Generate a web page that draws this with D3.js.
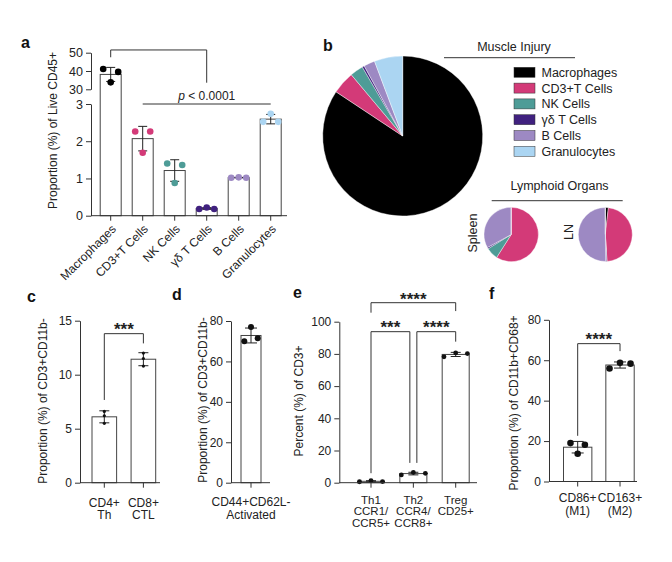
<!DOCTYPE html>
<html>
<head>
<meta charset="utf-8">
<script src="https://cdn.jsdelivr.net/npm/d3@7"></script>
<style>
body { margin: 0; background: #fff; }
svg { display: block; }
text { font-family: "Liberation Sans", Arial, sans-serif; fill: #222; }
</style>
</head>
<body>
<svg id="fig" width="672" height="562"></svg>
<script>
// ---- data ----
const cellTypes = ["Macrophages", "CD3+T Cells", "NK Cells", "γδ T Cells", "B Cells", "Granulocytes"];
const cellColors = ["#000000", "#d33a78", "#4e9c97", "#40217f", "#9d89c3", "#abd5f2"];
// replicate values, left / centre / right dot
const aPoints = [
    [41.1, 33.8, 39.5],
    [2.26, 1.69, 2.26],
    [1.40, 0.88, 1.36],
    [0.18, 0.22, 0.18],
    [1.02, 1.03, 1.02],
    [2.52, 2.74, 2.52]
];
const aTicksUpper = [30, 40, 50];
const aTicksLower = [0, 1, 2, 3];

// lymphoid organ composition (% of slice), same order as cellTypes
const spleenShares = [0, 59, 7.2, 0.8, 33, 0];
const lnShares = [1.8, 47.2, 0.2, 0.6, 50.2, 0];

const cLabels = ["CD4+\nTh", "CD8+\nCTL"];
const cPoints = [[6.6, 6.2, 5.5], [12.0, 11.5, 10.8]];
const cTicks = [0, 5, 10, 15];

const dLabels = ["CD44+CD62L-\nActivated"];
const dPoints = [[70, 77, 71.5]];
const dTicks = [0, 20, 40, 60, 80];

const eLabels = ["Th1\nCCR1/\nCCR5+", "Th2\nCCR4/\nCCR8+", "Treg\nCD25+"];
const ePoints = [[0.6, 1.3, 0.7], [4.8, 6.4, 5.8], [78.2, 80.6, 80.2]];
const eTicks = [0, 20, 40, 60, 80, 100];

const fLabels = ["CD86+\n(M1)", "CD163+\n(M2)"];
const fPoints = [[19.0, 13.7, 18.2], [55.9, 58.7, 58.3]];
const fTicks = [0, 20, 40, 60, 80];

const svg = d3.select("#fig");
const axisColor = "#333";
const barStroke = "#444";
const intFmt = d3.format("d");

const styleAxis = (g, size) => {
    g.selectAll(".domain, .tick line").attr("stroke", axisColor).attr("stroke-width", 1);
    g.selectAll(".tick text").attr("font-size", size || "12px").attr("fill", "#222")
        .attr("font-family", "Liberation Sans, Arial, sans-serif");
};

const panelLetter = (txt, x, y) => {
    svg.append("text").attr("x", x).attr("y", y).text(txt)
        .attr("font-size", "16px").attr("font-weight", "bold").style("fill", "#111");
};

const yTitle = (txt, x, y) => {
    svg.append("text")
        .attr("transform", "translate(" + x + "," + y + ") rotate(-90)")
        .attr("text-anchor", "middle")
        .attr("font-size", "12px")
        .text(txt);
};

const stars = (txt, x, y) => {
    svg.append("text").attr("x", x).attr("y", y).attr("text-anchor", "middle")
        .attr("font-size", "17px").attr("font-weight", "bold").text(txt);
};

const bracket = (x1, y1, x2, y2, top) => {
    svg.append("path")
        .attr("d", "M" + x1 + "," + y1 + "V" + top + "H" + x2 + "V" + y2)
        .attr("fill", "none").attr("stroke", axisColor).attr("stroke-width", 1);
};

// ================= panel a =================
const ax = d3.scaleBand().domain(cellTypes).range([100.2, 281.2]).paddingInner(0.344);
const ayUp = d3.scaleLinear().domain([30, 50]).range([89.3, 52.7]);
const ayLow = d3.scaleLinear().domain([0, 3]).range([215.7, 104]);
const ay = v => v > 3 ? ayUp(v) : ayLow(v);
const aStats = aPoints.map(p => ({ m: d3.mean(p), s: d3.deviation(p) }));
const acx = d => ax(d) + ax.bandwidth() / 2;

const ga = svg.append("g");
ga.selectAll("rect").data(cellTypes).join("rect")
    .attr("x", d => ax(d))
    .attr("width", ax.bandwidth())
    .attr("y", (d, i) => ay(aStats[i].m))
    .attr("height", (d, i) => ayLow(0) - ay(aStats[i].m))
    .attr("fill", "#fff").attr("stroke", barStroke);

cellTypes.forEach((c, i) => {
    const cx = acx(c), st = aStats[i];
    const top = ay(st.m + st.s), bot = ay(st.m - st.s);
    ga.append("path")
        .attr("d", "M" + cx + "," + top + "V" + bot + "M" + (cx - 4.5) + "," + top + "H" + (cx + 4.5)
            + "M" + (cx - 4.5) + "," + bot + "H" + (cx + 4.5))
        .attr("stroke", "#222").attr("fill", "none");
    ga.selectAll(null).data(aPoints[i]).join("circle")
        .attr("cx", (v, j) => cx + (j - 1) * 7.5)
        .attr("cy", v => ay(v))
        .attr("r", 3.3)
        .attr("fill", cellColors[i]);
});

const axU = svg.append("g").attr("transform", "translate(91,0)")
    .call(d3.axisLeft(ayUp).tickValues(aTicksUpper).tickFormat(intFmt)
        .tickSize(5).tickSizeOuter(0).tickPadding(3));
styleAxis(axU, "12.5px");
const axL = svg.append("g").attr("transform", "translate(91,0)")
    .call(d3.axisLeft(ayLow).tickValues(aTicksLower).tickFormat(intFmt)
        .tickSize(5).tickSizeOuter(0).tickPadding(3));
styleAxis(axL, "12.5px");

const axB = svg.append("g").attr("transform", "translate(0," + ayLow(0) + ")")
    .call(d3.axisBottom(ax).tickSize(5).tickSizeOuter(0).tickFormat(""));
axB.select(".domain").remove();
styleAxis(axB);
svg.append("line").attr("x1", 91).attr("x2", 287).attr("y1", ayLow(0)).attr("y2", ayLow(0))
    .attr("stroke", axisColor);

svg.selectAll(".alab").data(cellTypes).join("text")
    .attr("class", "alab")
    .attr("transform", d => "translate(" + (acx(d) + 3) + "," + (ayLow(0) + 11) + ") rotate(-45)")
    .attr("text-anchor", "end")
    .attr("dy", "0.35em")
    .attr("font-size", "12px")
    .text(d => d);

bracket(acx(cellTypes[0]), ayUp(47.5), acx(cellTypes[3]), ayUp(33.6), ayUp(51.5));
svg.append("line").attr("x1", acx(cellTypes[1])).attr("x2", acx(cellTypes[5]))
    .attr("y1", ayLow(3)).attr("y2", ayLow(3)).attr("stroke", axisColor);
const pt = svg.append("text").attr("x", acx(cellTypes[3])).attr("y", ayLow(3) - 4.5)
    .attr("text-anchor", "middle").attr("font-size", "12px");
pt.append("tspan").attr("font-style", "italic").text("p");
pt.append("tspan").text(" < 0.0001");

yTitle("Proportion (%) of Live CD45+", 56.5, 130.5);
panelLetter("a", 21, 47.5);

// ================= panel b =================
const pie = d3.pie().sort(null).value(d => d);
const muscleShares = aStats.map(s => s.m);

const drawPie = (values, cx, cy, r) => {
    const arc = d3.arc().innerRadius(0).outerRadius(r);
    svg.append("g").attr("transform", "translate(" + cx + "," + cy + ")")
        .selectAll("path").data(pie(values)).join("path")
        .attr("d", arc)
        .attr("fill", (d, i) => cellColors[i])
        .attr("stroke", "#fff").attr("stroke-width", 0.4);
};
drawPie(muscleShares, 402.7, 136, 80);
drawPie(spleenShares, 511.2, 234.5, 27.2);
drawPie(lnShares, 605.3, 234.5, 27);

svg.append("text").attr("x", 514).attr("y", 51).attr("text-anchor", "middle")
    .attr("font-size", "12.5px").text("Muscle Injury");
svg.append("line").attr("x1", 444).attr("x2", 575).attr("y1", 57.7).attr("y2", 57.7)
    .attr("stroke", "#333");

const leg = svg.append("g").attr("transform", "translate(514,72.3)");
leg.selectAll("rect").data(cellTypes).join("rect")
    .attr("x", 0).attr("y", (d, i) => i * 15.8 - 5)
    .attr("width", 21).attr("height", 10)
    .attr("fill", (d, i) => cellColors[i])
    .attr("stroke", "#333").attr("stroke-width", 0.5);
leg.selectAll("text").data(cellTypes).join("text")
    .attr("x", 27.5).attr("y", (d, i) => i * 15.8)
    .attr("dy", "0.36em")
    .attr("font-size", "12.5px")
    .text(d => d);

svg.append("text").attr("x", 559.5).attr("y", 190).attr("text-anchor", "middle")
    .attr("font-size", "12.5px").text("Lymphoid Organs");
svg.append("line").attr("x1", 491.7).attr("x2", 622.7).attr("y1", 200.7).attr("y2", 200.7)
    .attr("stroke", "#333");
svg.append("text").attr("transform", "translate(476.5,233) rotate(-90)")
    .attr("text-anchor", "middle").attr("font-size", "12.5px").text("Spleen");
svg.append("text").attr("transform", "translate(572.5,232) rotate(-90)")
    .attr("text-anchor", "middle").attr("font-size", "12.5px").text("LN");

panelLetter("b", 323, 50.7);

// ================= bar panels c-f =================
const barPanel = o => {
    const x = d3.scaleBand().domain(o.labels).range(o.band).paddingInner(o.pad);
    const y = d3.scaleLinear().domain([0, d3.max(o.ticks)]).range(o.yRange);
    const cx = d => x(d) + x.bandwidth() / 2;
    const stats = o.points.map(p => ({ m: d3.mean(p), s: d3.deviation(p) }));
    const g = svg.append("g");

    g.selectAll("rect").data(o.labels).join("rect")
        .attr("x", d => x(d)).attr("width", x.bandwidth())
        .attr("y", (d, i) => y(stats[i].m))
        .attr("height", (d, i) => y(0) - y(stats[i].m))
        .attr("fill", "#fff").attr("stroke", barStroke);

    o.labels.forEach((lab, i) => {
        const c = cx(lab), st = stats[i];
        const top = y(st.m + st.s), bot = y(st.m - st.s);
        g.append("path")
            .attr("d", "M" + c + "," + top + "V" + bot + "M" + (c - o.cap) + "," + top + "H" + (c + o.cap)
                + "M" + (c - o.cap) + "," + bot + "H" + (c + o.cap))
            .attr("stroke", "#222").attr("fill", "none");
        g.selectAll(null).data(o.points[i]).join("circle")
            .attr("cx", (v, j) => c + (j - 1) * o.spread[i])
            .attr("cy", v => y(v))
            .attr("r", o.r)
            .attr("fill", "#111");
    });

    const yAx = svg.append("g").attr("transform", "translate(" + o.axisX + ",0)")
        .call(d3.axisLeft(y).tickValues(o.ticks).tickFormat(intFmt)
            .tickSize(5).tickSizeOuter(0).tickPadding(3));
    styleAxis(yAx);
    const xAx = svg.append("g").attr("transform", "translate(0," + y(0) + ")")
        .call(d3.axisBottom(x).tickSize(5).tickSizeOuter(0).tickFormat(""));
    xAx.select(".domain").remove();
    styleAxis(xAx);
    svg.append("line").attr("x1", o.axisX).attr("x2", o.axisEnd)
        .attr("y1", y(0)).attr("y2", y(0)).attr("stroke", axisColor);

    o.labels.forEach(lab => {
        lab.split("\n").forEach((line, k) => {
            svg.append("text").attr("text-anchor", "middle")
                .attr("font-size", o.labelSize || "12px")
                .attr("x", cx(lab)).attr("y", o.labelY + k * o.lineH).text(line);
        });
    });
    return { x: cx, y: y };
};

// panel c
const pc = barPanel({
    labels: cLabels, points: cPoints, ticks: cTicks,
    band: [92, 155.7], pad: 0.37, yRange: [482.7, 320.7],
    axisX: 80, axisEnd: 160, cap: 5, r: 1.6, spread: [0, 0],
    labelY: 506.5, lineH: 12.5
});
bracket(pc.x(cLabels[0]), pc.y(7.66), pc.x(cLabels[1]), pc.y(12.9), pc.y(13.8));
stars("***", (pc.x(cLabels[0]) + pc.x(cLabels[1])) / 2, pc.y(13.8) + 1.5);
yTitle("Proportion (%) of CD3+CD11b-", 46.5, 401);
panelLetter("c", 27, 302);

// panel d
const pd = barPanel({
    labels: dLabels, points: dPoints, ticks: dTicks,
    band: [241, 261], pad: 0, yRange: [482.7, 321],
    axisX: 231, axisEnd: 270, cap: 6, r: 3, spread: [6.7],
    labelY: 506, lineH: 12.5
});
yTitle("Proportion (%) of CD3+CD11b-", 207, 400);
panelLetter("d", 172, 300);

// panel e
const pe = barPanel({
    labels: eLabels, points: ePoints, ticks: eTicks,
    band: [357.5, 469.2], pad: 0.362, yRange: [482.7, 321.7],
    axisX: 339.3, axisEnd: 477, cap: 5, r: 2.4, spread: [11.5, 12, 11.7],
    labelY: 503.5, lineH: 11.8, labelSize: "11.5px"
});
const e1 = pe.x(eLabels[0]), e2 = pe.x(eLabels[1]), e3 = pe.x(eLabels[2]);
bracket(e1, pe.y(105.6), e3, pe.y(106.6), pe.y(111.8));
stars("****", (e1 + e3) / 2, pe.y(111.8) + 2);
bracket(e1, pe.y(5.9), e2 - 3.5, pe.y(12.3), pe.y(93.8));
stars("***", (e1 + e2 - 3.5) / 2, pe.y(93.8) + 1.5);
bracket(e2 + 3.5, pe.y(12.3), e3, pe.y(87.6), pe.y(93.8));
stars("****", (e2 + 3.5 + e3) / 2, pe.y(93.8) + 1.5);
yTitle("Percent (%) of CD3+", 303, 401);
panelLetter("e", 293, 298);

// panel f
const pf = barPanel({
    labels: fLabels, points: fPoints, ticks: fTicks,
    band: [563.5, 634.2], pad: 0.33, yRange: [481.5, 319.8],
    axisX: 549, axisEnd: 637, cap: 6, r: 3.3, spread: [7.2, 10.5],
    labelY: 501.6, lineH: 13.5
});
bracket(pf.x(fLabels[0]), pf.y(22.6), pf.x(fLabels[1]), pf.y(64.5), pf.y(68.2));
stars("****", (pf.x(fLabels[0]) + pf.x(fLabels[1])) / 2, pf.y(68.2) + 1.5);
yTitle("Proportion (%) of CD11b+CD68+", 518, 403);
panelLetter("f", 489, 299);
</script>
</body>
</html>
